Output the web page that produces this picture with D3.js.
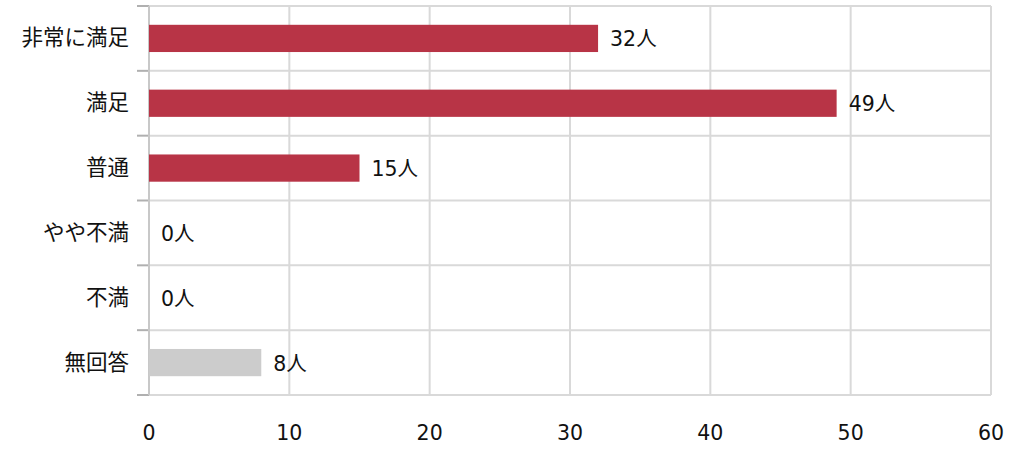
<!DOCTYPE html>
<html><head><meta charset="utf-8">
<script src="https://cdn.jsdelivr.net/npm/d3@7"></script>
<style>body{margin:0;background:#fff;}svg{display:block;}</style>
</head><body>
<svg id="chart" width="1025" height="449"></svg>
<script>
const categories = ["非常に満足","満足","普通","やや不満","不満","無回答"];
const values = [32, 49, 15, 0, 0, 8];
const barColors = ["#b83446","#b83446","#b83446","#b83446","#b83446","#cccccc"];
const xTicks = [0,10,20,30,40,50,60];
const unit = "人";

const svg = d3.select("#chart");
const font = "'DejaVu Sans','Noto Sans CJK JP',sans-serif";
const x = d3.scaleLinear().domain([0,60]).range([149,991]);
const y = d3.scaleBand().domain(categories).range([6,395]).padding(0);
const barH = y.bandwidth()*0.42;

// vertical grid
svg.append("g").selectAll("line").data(xTicks.slice(1)).join("line")
  .attr("x1",d=>x(d)).attr("x2",d=>x(d)).attr("y1",6).attr("y2",395)
  .attr("stroke","#d9d9d9").attr("stroke-width",2);
// horizontal grid at band boundaries
const bounds = categories.map(c=>y(c)).concat([y.range()[1]]);
svg.append("g").selectAll("line").data(bounds).join("line")
  .attr("x1",x(0)).attr("x2",x(60)).attr("y1",d=>d).attr("y2",d=>d)
  .attr("stroke","#d9d9d9").attr("stroke-width",2);
// tick marks left
svg.append("g").selectAll("line").data(bounds).join("line")
  .attr("x1",137).attr("x2",x(0)).attr("y1",d=>d).attr("y2",d=>d)
  .attr("stroke","#b0b0b0").attr("stroke-width",2);
// left axis line
svg.append("line").attr("x1",x(0)).attr("x2",x(0)).attr("y1",6).attr("y2",395)
  .attr("stroke","#c8c8c8").attr("stroke-width",2);

// bars
svg.append("g").selectAll("rect").data(values).join("rect")
  .attr("x",x(0)).attr("y",(d,i)=>y(categories[i])+y.bandwidth()/2-barH/2)
  .attr("width",d=>x(d)-x(0)).attr("height",barH)
  .attr("fill",(d,i)=>barColors[i]);

// value labels
svg.append("g").selectAll("text").data(values).join("text")
  .attr("x",d=>x(d)+12).attr("y",(d,i)=>y(categories[i])+y.bandwidth()/2+2)
  .attr("dominant-baseline","middle")
  .attr("font-family",font).attr("font-size",20.5).attr("fill","#111")
  .text(d=>d+unit);

// category labels
svg.append("g").selectAll("text").data(categories).join("text")
  .attr("x",129).attr("y",d=>y(d)+y.bandwidth()/2+1)
  .attr("text-anchor","end").attr("dominant-baseline","middle")
  .attr("font-family",font).attr("font-size",21.5).attr("fill","#111")
  .text(d=>d);

// x tick labels
svg.append("g").selectAll("text").data(xTicks).join("text")
  .attr("x",d=>x(d)).attr("y",434)
  .attr("text-anchor","middle").attr("dominant-baseline","middle")
  .attr("font-family",font).attr("font-size",20.5).attr("fill","#111")
  .text(d=>d);
</script>
</body></html>
